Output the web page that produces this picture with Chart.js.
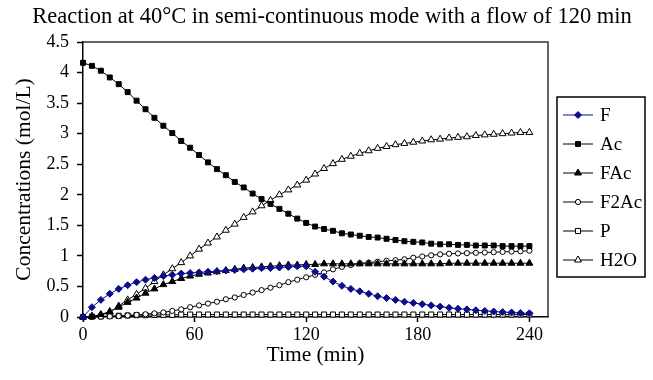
<!DOCTYPE html>
<html><head><meta charset="utf-8">
<script src="https://cdn.jsdelivr.net/npm/chart.js@4/dist/chart.umd.min.js"></script>
<style>html,body{margin:0;padding:0;background:#fff;}#wrap{width:653px;height:380px;}</style>
</head><body><div id="wrap"><canvas id="c" width="653" height="380"></canvas></div>
<script>
const titleText = 'Reaction at 40°C in semi-continuous mode with a flow of 120 min';
const xTitle = 'Time (min)';
const yTitle = 'Concentrations (mol/L)';
const seriesNames = ['F', 'Ac', 'FAc', 'F2Ac', 'P', 'H2O'];
const xTickValues = [0, 60, 120, 180, 240];
const yTickValues = [0, 0.5, 1, 1.5, 2, 2.5, 3, 3.5, 4, 4.5];

const times = [0,4.8,9.6,14.4,19.2,24,28.8,33.6,38.4,43.2,48,52.8,57.6,62.4,67.2,72,76.8,81.6,86.4,91.2,96,100.8,105.6,110.4,115.2,120,124.8,129.6,134.4,139.2,144,148.8,153.6,158.4,163.2,168,172.8,177.6,182.4,187.2,192,196.8,201.6,206.4,211.2,216,220.8,225.6,230.4,235.2,240];

const F = [0,0.16,0.28,0.38,0.46,0.52,0.57,0.61,0.64,0.67,0.69,0.71,0.72,0.73,0.74,0.75,0.76,0.77,0.78,0.79,0.80,0.80,0.81,0.82,0.83,0.83,0.74,0.66,0.58,0.51,0.46,0.42,0.38,0.34,0.31,0.28,0.25,0.23,0.21,0.19,0.17,0.15,0.135,0.125,0.11,0.10,0.09,0.08,0.075,0.065,0.06];
const Ac = [4.16,4.11,4.03,3.92,3.81,3.68,3.54,3.40,3.26,3.13,3.01,2.88,2.77,2.65,2.53,2.42,2.32,2.21,2.12,2.02,1.93,1.85,1.77,1.69,1.61,1.54,1.48,1.44,1.41,1.37,1.35,1.33,1.31,1.30,1.28,1.26,1.24,1.23,1.22,1.20,1.19,1.19,1.18,1.18,1.17,1.17,1.17,1.16,1.16,1.16,1.16];
const FAc = [0,0.01,0.04,0.09,0.16,0.24,0.31,0.39,0.46,0.53,0.58,0.63,0.67,0.70,0.72,0.74,0.76,0.78,0.80,0.81,0.82,0.83,0.84,0.85,0.85,0.86,0.86,0.87,0.87,0.87,0.87,0.87,0.87,0.87,0.87,0.87,0.87,0.87,0.87,0.87,0.87,0.88,0.88,0.88,0.88,0.88,0.88,0.88,0.88,0.88,0.88];
const F2Ac = [0,0,0.005,0.01,0.015,0.025,0.035,0.045,0.06,0.075,0.10,0.125,0.16,0.19,0.22,0.25,0.29,0.32,0.36,0.40,0.44,0.48,0.52,0.57,0.61,0.65,0.69,0.73,0.78,0.82,0.85,0.88,0.89,0.905,0.92,0.93,0.945,0.97,0.99,1.01,1.025,1.035,1.04,1.045,1.05,1.055,1.06,1.065,1.07,1.075,1.085];
const P = [0,0.005,0.01,0.015,0.02,0.025,0.03,0.03,0.035,0.035,0.035,0.04,0.04,0.04,0.04,0.04,0.04,0.04,0.04,0.04,0.04,0.04,0.04,0.04,0.04,0.04,0.04,0.04,0.04,0.04,0.04,0.04,0.04,0.04,0.04,0.04,0.04,0.04,0.04,0.04,0.04,0.04,0.04,0.04,0.04,0.04,0.04,0.04,0.04,0.04,0.04];
const H2O = [0,0.01,0.03,0.08,0.18,0.28,0.37,0.47,0.58,0.69,0.79,0.89,1.00,1.11,1.21,1.31,1.42,1.52,1.63,1.72,1.82,1.91,2.00,2.08,2.16,2.24,2.34,2.43,2.51,2.58,2.63,2.68,2.72,2.76,2.79,2.82,2.84,2.86,2.88,2.90,2.91,2.93,2.94,2.95,2.97,2.98,2.99,3.00,3.01,3.02,3.02];

const seriesValues = [F, Ac, FAc, F2Ac, P, H2O];
const NAVY = '#0c0c8a';
const styles = [
  {line: NAVY, style: 'rectRot', r: 3.5, fill: NAVY, border: NAVY},
  {line: '#000', style: 'rect', r: 3.5, fill: '#000', border: '#000'},
  {line: '#000', style: 'triangle', r: 4, fill: '#000', border: '#000'},
  {line: '#000', style: 'circle', r: 2.6, fill: '#fff', border: '#000'},
  {line: '#000', style: 'rect', r: 3.6, fill: '#fff', border: '#000'},
  {line: '#000', style: 'triangle', r: 4, fill: '#fff', border: '#000'}
];
const FONT = "'Liberation Serif', 'Times New Roman', serif";

const datasets = seriesNames.map((name, k) => ({
  label: name,
  data: times.map((t, i) => ({x: t, y: seriesValues[k][i]})),
  borderColor: styles[k].line,
  borderWidth: 1,
  backgroundColor: styles[k].fill,
  pointStyle: styles[k].style,
  pointRadius: styles[k].r,
  pointBackgroundColor: styles[k].fill,
  pointBorderColor: styles[k].border,
  pointBorderWidth: 1,
  showLine: true,
  tension: 0,
  fill: false,
  clip: false
}));

const framePlugin = {
  id: 'frame',
  afterDraw(chart) {
    const {ctx, chartArea: a} = chart;
    ctx.save();
    ctx.strokeStyle = '#333';
    ctx.lineWidth = 1.5;
    ctx.beginPath();
    ctx.moveTo(a.left, a.top);
    ctx.lineTo(a.right, a.top);
    ctx.lineTo(a.right, a.bottom);
    ctx.stroke();
    ctx.fillStyle = '#000';
    ctx.font = '22.5px ' + FONT;
    ctx.textAlign = 'center';
    ctx.textBaseline = 'middle';
    ctx.fillText(titleText, 332, 17);
    ctx.restore();
  }
};

function drawMarker(ctx, st, x, y) {
  ctx.fillStyle = st.fill;
  ctx.strokeStyle = st.border;
  ctx.lineWidth = 1;
  if (Chart.helpers && Chart.helpers.drawPoint) {
    Chart.helpers.drawPoint(ctx, {pointStyle: st.style, radius: st.r, rotation: 0, borderWidth: 1}, x, y);
  }
}

const legendPlugin = {
  id: 'boxLegend',
  afterDraw(chart) {
    const ctx = chart.ctx;
    const bx = 557, by = 97, bw = 88, bh = 180;
    ctx.save();
    ctx.strokeStyle = '#000';
    ctx.lineWidth = 1.5;
    ctx.strokeRect(bx, by, bw, bh);
    ctx.font = '19px ' + FONT;
    ctx.textBaseline = 'middle';
    ctx.textAlign = 'left';
    chart.data.datasets.forEach((ds, k) => {
      const y = by + 18 + k * 29;
      ctx.strokeStyle = styles[k].line;
      ctx.lineWidth = 1;
      ctx.beginPath();
      ctx.moveTo(bx + 6, y);
      ctx.lineTo(bx + 36, y);
      ctx.stroke();
      drawMarker(ctx, styles[k], bx + 21, y);
      ctx.fillStyle = '#000';
      ctx.fillText(ds.label, bx + 43, y + 1);
    });
    ctx.restore();
  }
};

new Chart(document.getElementById('c'), {
  type: 'scatter',
  data: {datasets},
  plugins: [framePlugin, legendPlugin],
  options: {
    responsive: false,
    animation: false,
    devicePixelRatio: 1,
    layout: {padding: {top: 42, right: 105, bottom: 0, left: 0}},
    plugins: {
      legend: {display: false},
      tooltip: {enabled: false},
      title: {display: false}
    },
    scales: {
      x: {
        type: 'linear',
        min: 0,
        max: 250,
        afterBuildTicks: s => { s.ticks = xTickValues.map(v => ({value: v})); },
        afterFit: s => { s.height = 63; },
        ticks: {color: '#000', font: {family: FONT, size: 18}, padding: 2, maxRotation: 0, autoSkip: false},
        grid: {drawOnChartArea: false, drawTicks: true, tickLength: 5, tickColor: '#000', tickWidth: 1.5},
        border: {display: true, color: '#000', width: 1.5},
        title: {display: true, text: xTitle, color: '#000', font: {family: FONT, size: 21.5}, padding: {top: 0, bottom: 12}}
      },
      y: {
        type: 'linear',
        min: 0,
        max: 4.5,
        afterBuildTicks: s => { s.ticks = yTickValues.map(v => ({value: v})); },
        afterFit: s => { s.width = 83; },
        ticks: {color: '#000', font: {family: FONT, size: 18}, padding: 8, callback: v => String(v)},
        grid: {drawOnChartArea: false, drawTicks: true, tickLength: 6, tickColor: '#000', tickWidth: 1.5},
        border: {display: true, color: '#000', width: 1.5},
        title: {display: true, text: yTitle, color: '#000', font: {family: FONT, size: 21.5}, padding: {top: 11, bottom: 0}}
      }
    }
  }
});
</script>
</body></html>
